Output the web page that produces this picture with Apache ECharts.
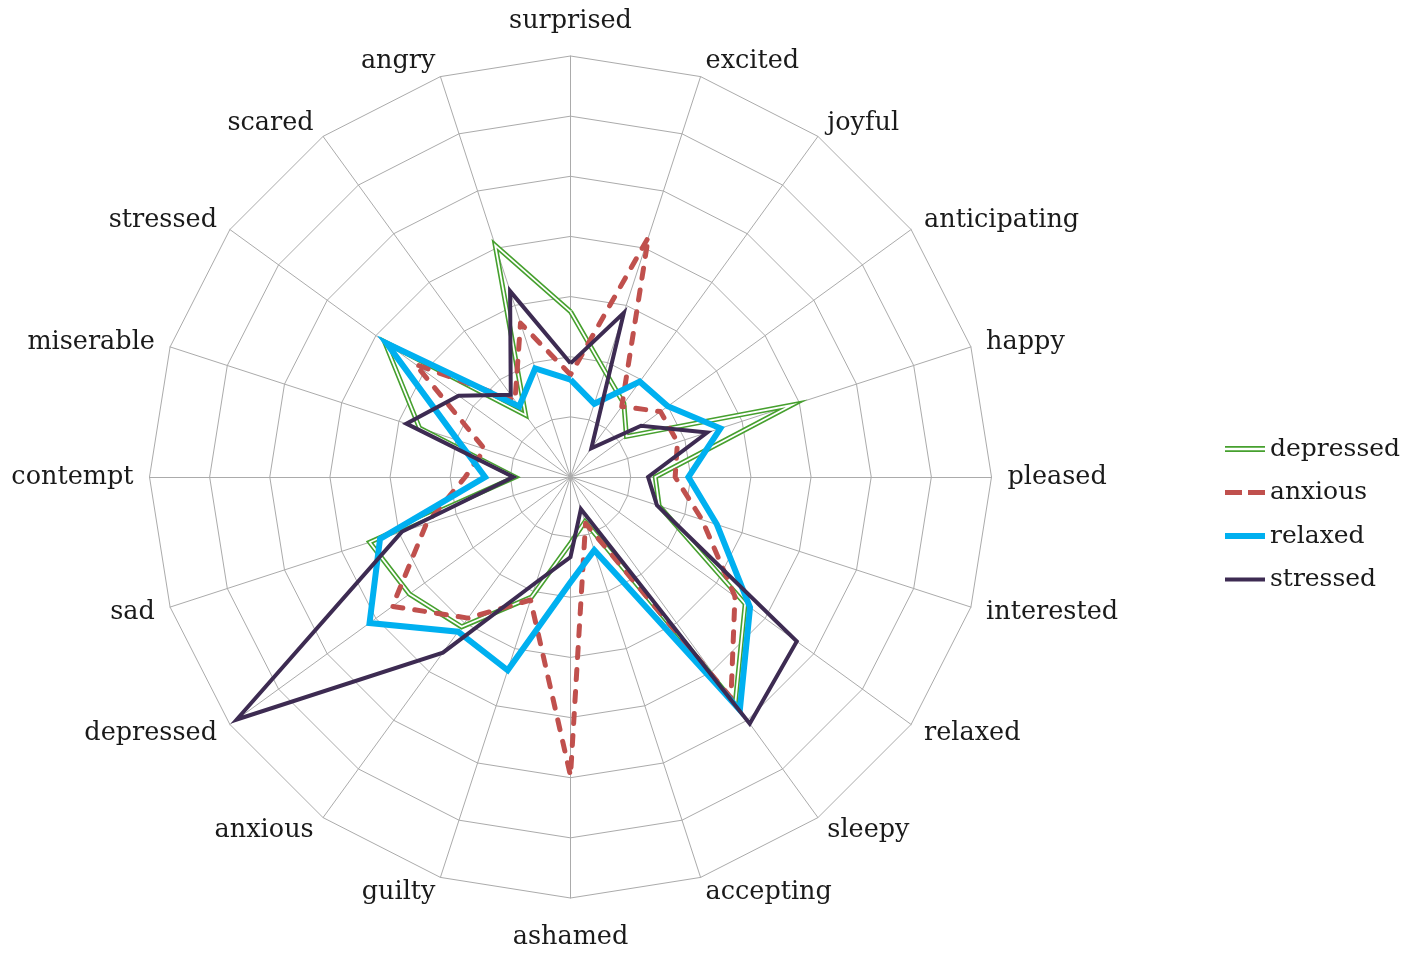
<!DOCTYPE html>
<html>
<head>
<meta charset="utf-8">
<script src="https://cdn.jsdelivr.net/npm/echarts@6/dist/echarts.min.js"></script>
<style>
  html, body { margin: 0; padding: 0; background: #fff; }
  #radar { width: 1408px; height: 953px; }
</style>
</head>
<body>
<div id="radar"></div>
<script>
// axes, clockwise from the top
var emotions = ['surprised', 'excited', 'joyful', 'anticipating', 'happy', 'pleased',
    'interested', 'relaxed', 'sleepy', 'accepting', 'ashamed', 'guilty', 'anxious',
    'depressed', 'sad', 'contempt', 'miserable', 'stressed', 'scared', 'angry'];

var depressed = [2.75, 1.85, 1.51, 1.15, 3.87, 1.41, 1.55, 3.59, 4.66, 0.78,
    1.10, 2.10, 3.08, 3.31, 3.51, 0.92, 2.64, 3.82, 1.27, 4.05];
var anxious = [1.70, 4.19, 1.45, 1.85, 1.87, 1.74, 2.30, 3.38, 4.54, 0.81,
    4.97, 2.15, 2.90, 3.66, 2.52, 1.75, 1.50, 3.19, 1.57, 2.69];
var relaxed = [1.62, 1.28, 1.96, 2.00, 2.62, 1.96, 2.56, 3.69, 4.79, 1.28,
    1.75, 3.38, 3.18, 4.13, 3.33, 1.42, 1.97, 3.78, 1.45, 1.90];
var stressed = [1.89, 2.87, 0.59, 1.45, 2.39, 1.29, 1.51, 4.65, 5.07, 0.56,
    1.33, 1.84, 3.61, 6.86, 2.95, 0.95, 2.87, 2.30, 1.69, 3.25];

var maxValue = 7;
var font = 'DejaVu Serif';

// echarts lays indicators counter-clockwise, so flip everything after the first
function ccw(arr) {
    return [arr[0]].concat(arr.slice(1).reverse());
}

var indicator = ccw(emotions).map(function (n) {
    return { name: n, min: 0, max: maxValue };
});

function radarSeries(name, values, style) {
    return {
        type: 'radar',
        symbol: 'none',
        silent: true,
        lineStyle: style,
        data: [{ name: name, value: ccw(values) }]
    };
}

var option = {
    animation: false,
    backgroundColor: '#fff',
    legend: {
        orient: 'vertical',
        left: 1225,
        top: 434,
        padding: 0,
        itemWidth: 40,
        itemHeight: 6,
        itemGap: 13.5,
        selectedMode: false,
        textStyle: { fontFamily: font, fontSize: 25, color: '#1a1a1a', lineHeight: 30 },
        data: [
            { name: 'depressed', icon: 'path://M0,0L40,0L40,1.8L0,1.8ZM0,4.2L40,4.2L40,6L0,6Z',
              itemStyle: { color: '#46A02E', borderWidth: 0 } },
            { name: 'anxious', icon: 'path://M0,0.5L17,0.5L17,5.5L0,5.5ZM23,0.5L40,0.5L40,5.5L23,5.5Z',
              itemStyle: { color: '#C0504D', borderWidth: 0 } },
            { name: 'relaxed', icon: 'path://M0,0L40,0L40,6L0,6Z',
              itemStyle: { color: '#00B0F0', borderWidth: 0 } },
            { name: 'stressed', icon: 'path://M0,1L40,1L40,5L0,5Z',
              itemStyle: { color: '#3D2B52', borderWidth: 0 } }
        ]
    },
    radar: {
        center: [570.5, 477],
        radius: 421,
        startAngle: 90,
        splitNumber: 7,
        shape: 'polygon',
        axisNameGap: 16,
        indicator: indicator,
        axisName: { color: '#1a1a1a', fontFamily: font, fontSize: 25.5, padding: [10, 0, 6, 0] },
        splitArea: { show: false },
        splitLine: { lineStyle: { color: '#ABABAB', width: 1 } },
        axisLine: { lineStyle: { color: '#ABABAB', width: 1 } }
    },
    series: [
        radarSeries('depressed', depressed, { color: '#46A02E', width: 5, join: 'miter' }),
        radarSeries('depressed', depressed, { color: '#ffffff', width: 1.8, join: 'miter' }),
        radarSeries('anxious', anxious, { color: '#C0504D', width: 5, type: [10, 12], cap: 'round', join: 'round' }),
        radarSeries('relaxed', relaxed, { color: '#00B0F0', width: 6, join: 'miter' }),
        radarSeries('stressed', stressed, { color: '#3D2B52', width: 4, join: 'miter' })
    ]
};

var chart = echarts.init(document.getElementById('radar'));
chart.setOption(option);
</script>
</body>
</html>
